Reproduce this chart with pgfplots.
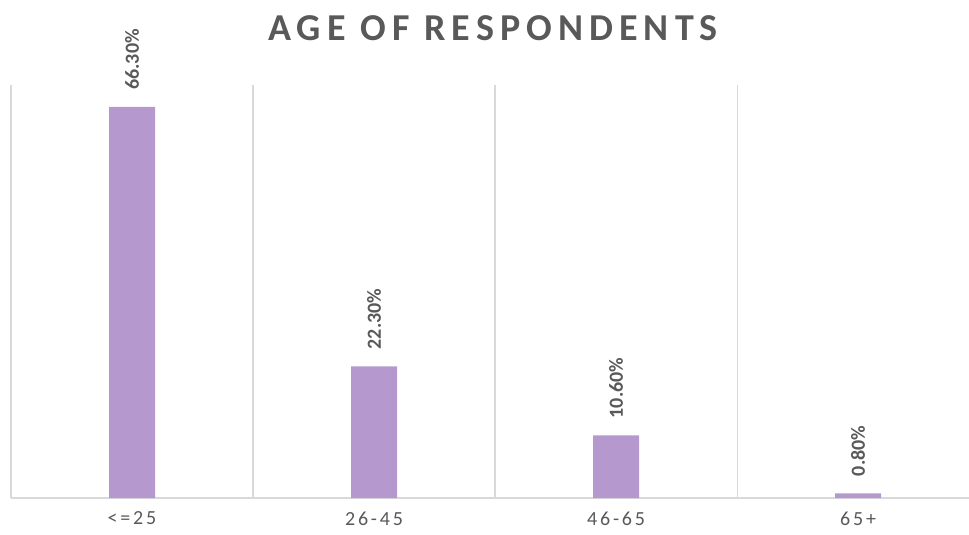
\documentclass[border=0pt]{standalone}
\usepackage{fontspec}
\setmainfont{Carlito}
\usepackage{pgfplots}
\pgfplotsset{compat=1.18}
\definecolor{barc}{HTML}{B598CE}
\definecolor{txt}{HTML}{595959}
\definecolor{gridc}{HTML}{D9D9D9}
\begin{document}
\begin{tikzpicture}
\useasboundingbox (0,0) rectangle (969bp,535bp);
\begin{axis}[
  at={(11bp,37bp)}, anchor=south west,
  scale only axis,
  width=958bp, height=413bp,
  xmin=-0.5, xmax=3.458,
  ymin=0, ymax=70,
  axis x line=bottom, axis y line=none,
  x axis line style={gridc, line width=1.2bp, -},
  xtick={0,1,2,3},
  xticklabels={{<=25},{26-45},{46-65},{65+}},
  major tick length=0pt,
  xticklabel style={font=\fontsize{20bp}{23bp}\selectfont\addfontfeature{LetterSpace=14}, text=txt, yshift=-10bp},
  ytick=\empty,
  extra x ticks={-0.5,0.5,1.5,2.5},
  extra x tick labels={},
  extra x tick style={grid=major, major grid style={gridc, line width=1.2bp}, major tick length=0pt},
  clip=false,
  nodes near coords={\pgfmathprintnumber[fixed,fixed zerofill,precision=2]{\pgfplotspointmeta}\%},
  nodes near coords style={/pgf/number format/assume math mode=true, font=\bfseries\fontsize{20bp}{24bp}\selectfont, text=txt, yshift=17bp, rotate=90, anchor=west, inner sep=0pt},
]
\addplot[ybar, bar width=46bp, fill=barc, draw=none] coordinates {(0,66.3) (1,22.3) (2,10.6) (3,0.8)};
\end{axis}
\node[font=\bfseries\fontsize{38bp}{42bp}\selectfont\addfontfeature{LetterSpace=16}, text=txt] at (493bp,507bp) {AGE OF RESPONDENTS};
\end{tikzpicture}
\end{document}
